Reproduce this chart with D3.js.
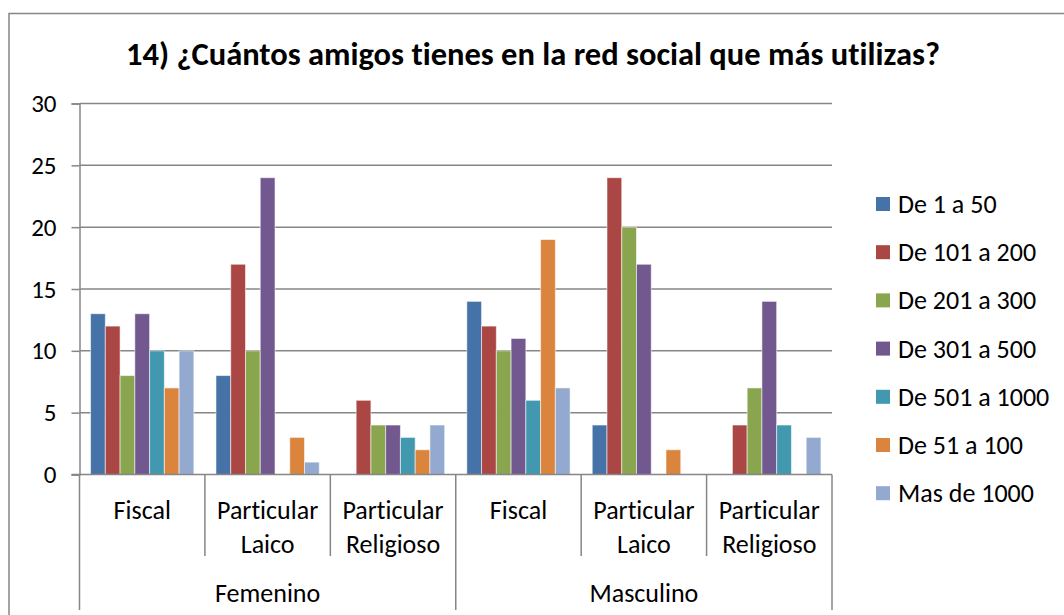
<!DOCTYPE html>
<html>
<head>
<meta charset="utf-8">
<script src="https://cdn.jsdelivr.net/npm/d3@7"></script>
<style>
  html, body { margin: 0; padding: 0; background: #fff; }
  svg { display: block; font-family: Carlito, Calibri, Lato, "Open Sans", sans-serif;
        font-variant-ligatures: none; }
</style>
</head>
<body>
<svg id="chart" width="1064" height="615"></svg>
<script>
// Survey question 14: number of friends on the most used social network,
// by gender and school type.
const genders = ["Femenino", "Masculino"];
const schoolTypes = [["Fiscal"], ["Particular", "Laico"], ["Particular", "Religioso"]];
const seriesNames = ["De 1 a 50", "De 101 a 200", "De 201 a 300", "De 301 a 500",
                     "De 501 a 1000", "De 51 a 100", "Mas de 1000"];
const seriesColors = ["#4572A7", "#AA4643", "#89A54E", "#71588F", "#4198AF", "#DB843D", "#93A9CF"];
const yTicks = [0, 5, 10, 15, 20, 25, 30];

// one row per gender × school type, values in series order
const femFiscal    = [13, 12, 8, 13, 10, 7, 10];
const femLaico     = [8, 17, 10, 24, 0, 3, 1];
const femReligioso = [0, 6, 4, 4, 3, 2, 4];
const masFiscal    = [14, 12, 10, 11, 6, 19, 7];
const masLaico     = [4, 24, 20, 17, 0, 2, 0];
const masReligioso = [0, 4, 7, 14, 4, 0, 3];

const rows = [
  { gender: "Femenino",  type: 0, values: femFiscal },
  { gender: "Femenino",  type: 1, values: femLaico },
  { gender: "Femenino",  type: 2, values: femReligioso },
  { gender: "Masculino", type: 0, values: masFiscal },
  { gender: "Masculino", type: 1, values: masLaico },
  { gender: "Masculino", type: 2, values: masReligioso }
];
rows.forEach((r, i) => r.key = i);

const svg = d3.select("#chart");
const gridColor = "#868686";
const labelSize = 26;

// outer chart frame
svg.append("rect")
  .attr("x", 9).attr("y", 13.5)
  .attr("width", 1080).attr("height", 640)
  .attr("fill", "none").attr("stroke", gridColor).attr("stroke-width", 1.5);

// title
svg.append("text")
  .attr("x", 533).attr("y", 65)
  .attr("text-anchor", "middle")
  .attr("font-size", 32.5).attr("font-weight", "bold").attr("fill", "#000")
  .text("14) ¿Cuántos amigos tienes en la red social que más utilizas?");

const plot = { left: 79.5, right: 832, top: 103.5, bottom: 474.5 };

const x0 = d3.scaleBand()
  .domain(rows.map(r => r.key))
  .range([plot.left, plot.right])
  .padding(0);

const x1 = d3.scaleBand()
  .domain(seriesNames)
  .range([0, x0.bandwidth()])
  .paddingInner(0)
  .paddingOuter(0.75);

const y = d3.scaleLinear()
  .domain([0, 30])
  .range([plot.bottom, plot.top]);

// horizontal gridlines
svg.append("g")
  .selectAll("line")
  .data(yTicks.filter(t => t > 0))
  .join("line")
  .attr("x1", plot.left).attr("x2", plot.right)
  .attr("y1", d => y(d)).attr("y2", d => y(d))
  .attr("stroke", gridColor).attr("stroke-width", 1.5);

// y axis
const yAxis = d3.axisLeft(y).tickValues(yTicks).tickSize(8).tickPadding(15);
const gy = svg.append("g").attr("transform", `translate(${plot.left},0)`).call(yAxis);
gy.select(".domain").attr("stroke", gridColor).attr("stroke-width", 1.5);
gy.selectAll(".tick line").attr("stroke", gridColor).attr("stroke-width", 1.5);
gy.selectAll(".tick text")
  .attr("font-size", 25).attr("fill", "#000")
  .attr("font-family", "Carlito, Calibri, Lato, sans-serif");

// bars
const groups = svg.append("g")
  .selectAll("g")
  .data(rows)
  .join("g")
  .attr("transform", d => `translate(${x0(d.key)},0)`);

groups.selectAll("rect")
  .data(d => d.values.map((v, i) => ({ name: seriesNames[i], value: v, color: seriesColors[i] })))
  .join("rect")
  .filter(d => d.value > 0)
  .attr("x", d => x1(d.name))
  .attr("y", d => y(d.value))
  .attr("width", x1.bandwidth())
  .attr("height", d => y(0) - y(d.value))
  .attr("fill", d => d.color)
  .attr("stroke", "rgba(255,255,255,0.55)")
  .attr("stroke-width", 1);

// x axis baseline
svg.append("line")
  .attr("x1", plot.left - 8).attr("x2", plot.right)
  .attr("y1", y(0)).attr("y2", y(0))
  .attr("stroke", gridColor).attr("stroke-width", 1.5);

// category separators: short ones between school types, long ones between genders
const boundaries = d3.range(rows.length + 1).map(i =>
  i < rows.length ? x0(rows[i].key) : plot.right);
svg.append("g")
  .selectAll("line")
  .data(boundaries)
  .join("line")
  .attr("x1", d => d).attr("x2", d => d)
  .attr("y1", y(0))
  .attr("y2", (d, i) => (i % 3 === 0 ? 610 : 556))
  .attr("stroke", gridColor).attr("stroke-width", 1.5);

// school type labels
const typeLabels = svg.append("g")
  .selectAll("text")
  .data(rows)
  .join("text")
  .attr("text-anchor", "middle")
  .attr("font-size", labelSize).attr("fill", "#000")
  .attr("transform", d => `translate(${x0(d.key) + x0.bandwidth() / 2},0)`);
typeLabels.selectAll("tspan")
  .data(d => schoolTypes[d.type])
  .join("tspan")
  .attr("x", 0)
  .attr("y", (d, i) => 519 + i * 34)
  .text(d => d);

// gender labels
svg.append("g")
  .selectAll("text")
  .data(genders)
  .join("text")
  .attr("text-anchor", "middle")
  .attr("font-size", labelSize).attr("fill", "#000")
  .attr("x", (g, i) => {
    const r = rows.filter(r => r.gender === g);
    return (x0(r[0].key) + x0(r[r.length - 1].key) + x0.bandwidth()) / 2;
  })
  .attr("y", 602)
  .text(d => d);

// legend
const legend = svg.append("g")
  .selectAll("g")
  .data(seriesNames)
  .join("g")
  .attr("transform", (d, i) => `translate(876,${204 + i * 48.2})`);
legend.append("rect")
  .attr("x", 0).attr("y", -7)
  .attr("width", 14).attr("height", 14)
  .attr("fill", (d, i) => seriesColors[i]);
legend.append("text")
  .attr("x", 22).attr("y", 9)
  .attr("font-size", labelSize).attr("fill", "#000")
  .text(d => d);
</script>
</body>
</html>
